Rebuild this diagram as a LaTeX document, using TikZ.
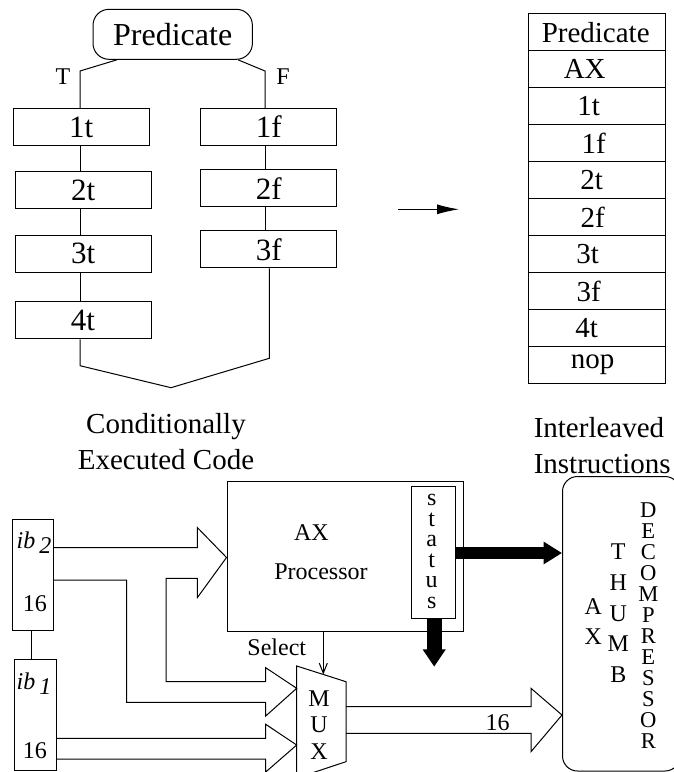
\documentclass[tikz,border=0pt]{standalone}
\usepackage{fontspec}
\setmainfont{Liberation Serif}
\usetikzlibrary{arrows.meta}

\newcommand{\topfont}{\fontsize{15.5}{18}\selectfont}
\newcommand{\lowfont}{\fontsize{12}{14}\selectfont}

\begin{document}
\begin{tikzpicture}[x=0.5pt, y=-0.5pt, line width=0.5pt,
		codebox/.style={draw, minimum width=68pt, minimum height=18.5pt, inner sep=0pt, font=\topfont},
		cell/.style={draw, minimum width=68.5pt, minimum height=18.47pt, inner sep=0pt, font=\fontsize{14.5}{17}\selectfont},
		unit/.style={draw, inner sep=0pt},
		stack/.style={align=center, inner sep=0pt, font=\lowfont}]
			\useasboundingbox (0, 0) rectangle (674, 772);

			\node[draw, rounded corners=8pt, minimum width=79.7pt, minimum height=25pt, font=\fontsize{16}{19}\selectfont] (pred) at (172.7, 34.3) {Predicate};
			\node[font=\fontsize{12}{14}\selectfont] (tlbl) at (63, 76.3) {T};
			\node[font=\fontsize{12}{14}\selectfont] (flbl) at (283, 76.3) {F};

			\node[codebox] (t1) at (81.2, 127) {1t};
			\node[codebox] (t2) at (83.3, 190) {2t};
			\node[codebox] (t3) at (83.3, 253.7) {3t};
			\node[codebox] (t4) at (83, 320.3) {4t};
			\node[codebox] (f1) at (268.7, 126.9) {1f};
			\node[codebox] (f2) at (268.7, 188.3) {2f};
			\node[codebox] (f3) at (268.7, 249.3) {3f};

			\draw (pred.south -| 117, 0) -- (80, 71) -- (t1.north -| 80, 0);
			\draw (pred.south -| 238, 0) -- (265, 71) -- (f1.north -| 265, 0);
			\foreach \a/\b in {t1/t2, t2/t3, t3/t4}
				\draw (\a.south -| 80, 0) -- (\b.north -| 80, 0);
			\foreach \a/\b in {f1/f2, f2/f3}
				\draw (\a.south -| 265, 0) -- (\b.north -| 265, 0);
			\draw (t4.south -| 80, 0) -- (80, 365.7) -- (171, 387.7) -- (269.3, 358.3) -- (f3.south -| 269.3, 0);

			\node[align=center, font=\fontsize{14.5}{18.3}\selectfont] (condcap) at (166, 441.7) {Conditionally\\Executed Code};
			\node[align=left, anchor=west, font=\fontsize{14.5}{17.8}\selectfont] (intcap) at (526.6, 445.5) {Interleaved\\Instructions};

			\coordinate (mapfrom) at (398, 209.3);
			\coordinate (mapto) at (459, 209.3);
			\draw[-{Latex[length=11pt, width=5pt]}] (mapfrom) -- (mapto);

			\foreach \lbl/\dx [count=\i] in {Predicate/-1, AX/-12, 1t/-8, 1f/-3, 2t/-5, 2f/-4, 3t/-9, 3f/-8, 4t/-10, nop/-4}
				\node[cell] (row\i) at (596.7, {14 + 36.93 * (\i - 0.5)}) {\hspace*{\dx pt}\lbl};

			\node[unit, minimum width=20.3pt, minimum height=55.5pt] (ib2) at (33, 574.5) {};
			\node[font=\lowfont] (ib2name) at (34, 543) {\textit{ib}\,\raisebox{-0.45ex}{\textit{2}}};
			\node[font=\lowfont] (ib2width) at (35, 604) {16};
			\node[unit, minimum width=20.8pt, minimum height=55.8pt] (ib1) at (35.2, 715) {};
			\node[font=\lowfont] (ib1name) at (34, 684) {\textit{ib}\,\raisebox{-0.45ex}{\textit{1}}};
			\node[font=\lowfont] (ib1width) at (35, 750.8) {16};
			\draw (ib2.south -| 31, 0) -- (ib1.north -| 31, 0);

			\node[unit, minimum width=118pt, minimum height=75pt] (proc) at (345, 556) {};
			\node[font=\lowfont] (procax) at (311.5, 533) {AX};
			\node[font=\lowfont] (procname) at (321, 572) {Processor};
			\node[unit, minimum width=21.7pt, minimum height=65.8pt] (status) at (433.3, 552.5) {};
			\node[stack, font=\fontsize{12}{10.3}\selectfont] (statusname) at (431.7, 551.5) {s\\t\\a\\t\\u\\s};

			\draw (296.7, 666) -- (346, 681.7) -- (346, 761.7) -- (296.7, 778) -- cycle;
			\node[stack, font=\fontsize{12}{13.4}\selectfont] (mux) at (319, 725) {M\\U\\X};
			\node[font=\lowfont] (sel) at (276.8, 647.3) {Select};
			\coordinate (muxtop) at (323.3, 674.5);
			\draw[-{Straight Barb[length=5pt, width=4pt]}] (proc.south -| muxtop) -- (muxtop);

			\node[draw, rounded corners=7.5pt, minimum width=58.75pt, minimum height=147.25pt, inner sep=0pt] (decomp) at (621.25, 623.75) {};
			\node[stack, font=\fontsize{11.3}{10.5}\selectfont] (decname) at (648.3, 625.8) {D\\E\\C\\O\\M\\P\\R\\E\\S\\S\\O\\R};
			\node[stack, font=\fontsize{12}{15.4}\selectfont] (thumbname) at (618.3, 613.3) {T\\H\\U\\M\\B};
			\node[stack, font=\fontsize{12}{15}\selectfont] (axname) at (593.3, 621.7) {A\\X};

			\draw[line width=5.85pt, -{Triangle[length=9.2pt, width=10.7pt]}] (status.east |- 0, 553) -- (decomp.west |- 0, 553);
			\coordinate (statusdown) at (434.2, 666.7);
			\draw[line width=7.5pt, -{Triangle[length=8.7pt, width=11pt]}] (status.south -| statusdown) -- (statusdown);

			\draw (ib2.east |- 0, 547.7) -- (197.3, 547.7) -- (197.3, 527.5) -- (proc.west |- 0, 557.5) -- (197.3, 597.7) -- (197.3, 578.3)
				-- (166, 578.3) -- (166, 681.7) -- (265.7, 681.7) -- (265.7, 667.7) -- (296.7, 688.3) -- (265.7, 716) -- (265.7, 702.3)
				-- (126.7, 702.3) -- (126.7, 580) -- (ib2.east |- 0, 580);
			\draw (ib1.east |- 0, 738.3) -- (265.7, 738.3) -- (265.7, 724.3) -- (296.7, 745) -- (265.7, 772) -- (265.7, 759) -- (ib1.east |- 0, 759);
			\draw (346, 706.7) -- (531, 706.7) -- (531, 688.3) -- (decomp.west |- 0, 715) -- (531, 751.7) -- (531, 733.3) -- (346, 733.3);
			\node[font=\lowfont] (buswidth) at (497.5, 722.5) {16};

		\end{tikzpicture}
\end{document}
